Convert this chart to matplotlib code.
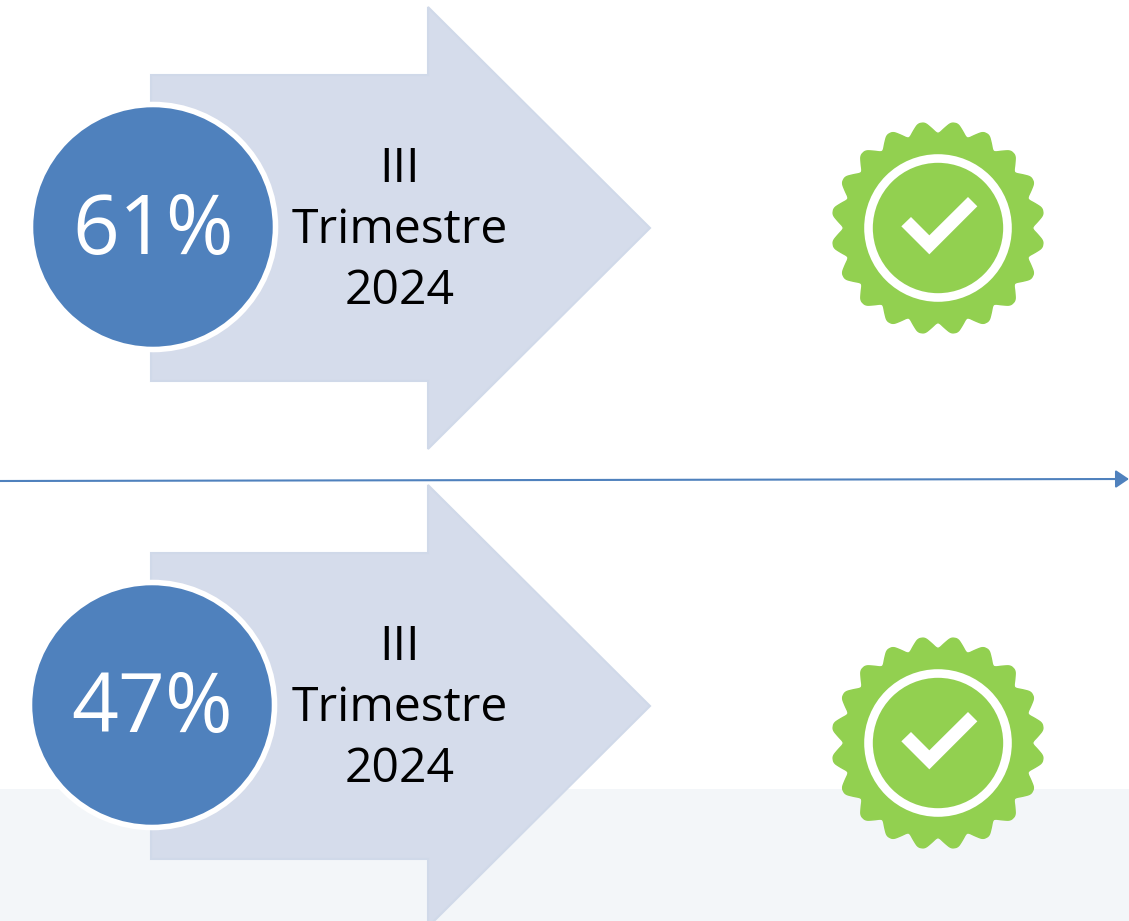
"""Two percentage arrows with approval badges on a timeline."""

import numpy as np
import matplotlib.pyplot as plt
from matplotlib.patches import Circle, Polygon, Rectangle

percents = ['61%', '47%']
periods = ['III\nTrimestre\n2024', 'III\nTrimestre\n2024']

BLUE = '#4f81bd'
ARROW = '#d5dceb'
GREEN = '#92d050'

# canvas in image pixels, y pointing down
fig = plt.figure(figsize=(11.29, 9.21), dpi=100)
ax = fig.add_axes([0, 0, 1, 1])
ax.set_xlim(0, 1129)
ax.set_ylim(921, 0)
ax.axis('off')


def badge(cx, cy):
    # seal outline: 20 points with rounded tips, corners smoothed
    t = np.linspace(0, 2 * np.pi, 1440, endpoint=False)
    phase = (t - np.radians(9)) / np.radians(18) % 1
    tri = 1 - 2 * np.minimum(phase, 1 - phase)
    r = 94.5 + 11.5 * np.clip((tri - 0.08) / 0.72, 0, 1)
    kernel = np.ones(11) / 11
    r = np.convolve(np.r_[r[-5:], r, r[:5]], kernel, mode='valid')
    ax.add_patch(Polygon(np.c_[cx + r * np.sin(t), cy - r * np.cos(t)],
                         fc=GREEN, ec=GREEN, lw=1, zorder=3))
    ax.add_patch(Circle((cx, cy), 69.5, fc='none', ec='white', lw=6.2, zorder=4))
    check = np.array([(243, 348), (272, 320), (327, 375), (443, 260), (471, 288), (327, 432)])
    check = (check - 353) / 3 + [cx, cy]
    ax.add_patch(Polygon(check, fc='white', ec='none', zorder=4))


def block(cy, circle_x, circle_y, pct, period):
    shape = [(151, cy - 153), (428, cy - 153), (428, cy - 221), (650, cy),
             (428, cy + 221), (428, cy + 153), (151, cy + 153)]
    ax.add_patch(Polygon(shape, fc=ARROW, ec='#d0d9e9', lw=1.5, zorder=1))
    ax.add_patch(Circle((circle_x, circle_y), 122.5, fc=BLUE, ec='white', lw=4, zorder=2))
    ax.text(circle_x, circle_y + 6, pct, color='white', fontsize=59, family='Open Sans',
            ha='center', va='center', zorder=5)
    ax.text(400, cy + 2, period, color='black', fontsize=34.7, family='Open Sans',
            ha='center', va='center', linespacing=1.37, zorder=5)


# pale band at the bottom, behind everything
ax.add_patch(Rectangle((0, 789), 1129, 132, fc='#f3f6f9', ec='none', zorder=0))

block(228, 153, 227, percents[0], periods[0])
block(706, 152, 705, percents[1], periods[1])
badge(938, 228)
badge(938, 743)

# timeline
ax.annotate('', xy=(1129, 479), xytext=(0, 481), annotation_clip=False,
            arrowprops=dict(arrowstyle='-|>,head_length=0.4,head_width=0.27', color=BLUE,
                            lw=1.5, mutation_scale=20, shrinkA=0, shrinkB=0), zorder=2)

fig.savefig('out.png', dpi=100)
